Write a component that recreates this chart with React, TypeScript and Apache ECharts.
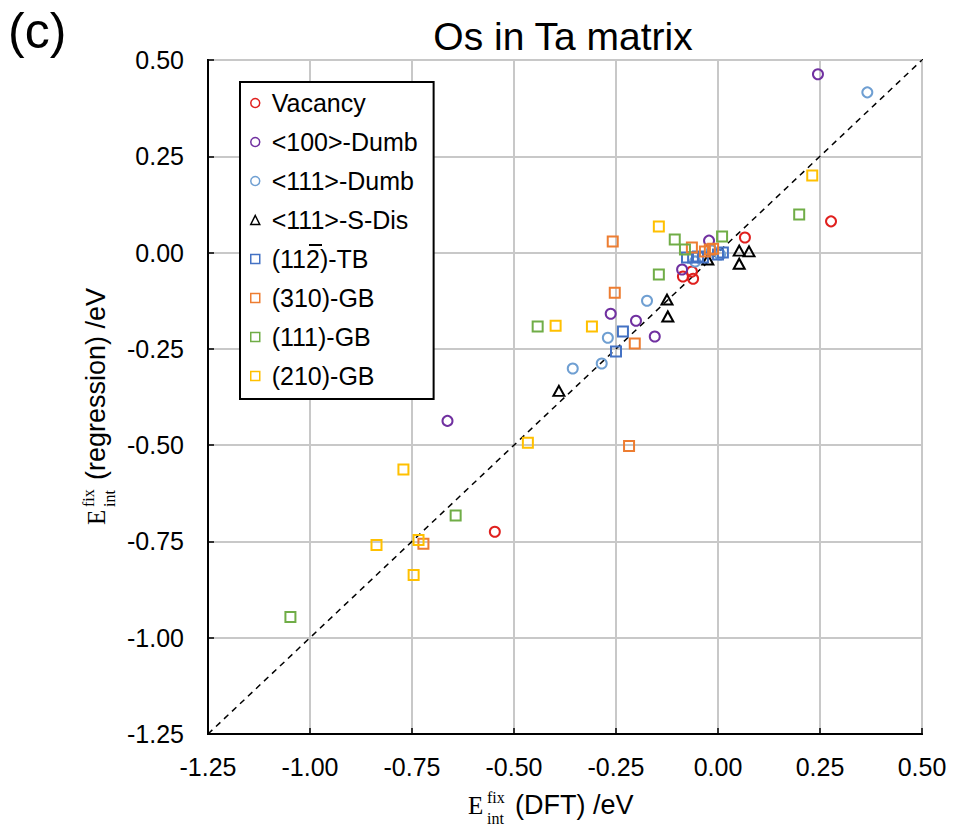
import React, { useEffect, useRef } from "react";
import * as echarts from "echarts";

const SANS = '"Liberation Sans", Arial, sans-serif';
const SERIF = '"Liberation Serif", "Times New Roman", serif';

const xTicks = [-1.25, -1.0, -0.75, -0.5, -0.25, 0.0, 0.25, 0.5];
const yTicks = [-1.25, -1.0, -0.75, -0.5, -0.25, 0.0, 0.25, 0.5];

const seriesNames = [
  "Vacancy",
  "<100>-Dumb",
  "<111>-Dumb",
  "<111>-S-Dis",
  "(112)-TB",
  "(310)-GB",
  "(111)-GB",
  "(210)-GB",
];
const seriesColors = ["#e0201e", "#7030a0", "#6f9fd2", "#000000", "#4472c4", "#ed7d31", "#70ad47", "#ffc000"];
const seriesSymbols = ["circle", "circle", "circle", "triangle", "rect", "rect", "rect", "rect"];

const vacancyX = [0.277, 0.066, -0.086, -0.064, -0.061, -0.547];
const vacancyY = [0.081, 0.039, -0.062, -0.049, -0.068, -0.725];

const dumb100X = [0.245, -0.022, -0.088, -0.263, -0.201, -0.155, -0.663];
const dumb100Y = [0.463, 0.031, -0.044, -0.159, -0.177, -0.218, -0.437];

const dumb111X = [0.366, -0.174, -0.27, -0.285, -0.356, -0.056, -0.015, 0.005];
const dumb111Y = [0.416, -0.125, -0.221, -0.288, -0.301, -0.023, 0.005, -0.005];

const sdisX = [0.052, 0.076, 0.052, -0.025, -0.125, -0.123, -0.39];
const sdisY = [0.005, 0.003, -0.029, -0.018, -0.122, -0.166, -0.359];

const tbX = [-0.233, -0.25, -0.076, -0.061, -0.049, -0.037, 0.0, 0.012];
const tbY = [-0.205, -0.257, -0.013, -0.013, -0.01, -0.013, -0.005, 0.0];

const gb310X = [-0.258, -0.253, -0.204, -0.218, -0.722, -0.064, -0.032, -0.02, -0.012];
const gb310Y = [0.029, -0.104, -0.236, -0.502, -0.756, 0.013, 0.003, 0.008, 0.01];

const gb111X = [-1.048, -0.643, -0.442, -0.145, -0.106, -0.081, 0.01, 0.199];
const gb111Y = [-0.946, -0.683, -0.192, -0.057, 0.034, 0.008, 0.042, 0.099];

const gb210X = [0.231, -0.145, -0.398, -0.309, -0.466, -0.771, -0.837, -0.734, -0.746];
const gb210Y = [0.2, 0.068, -0.19, -0.192, -0.494, -0.563, -0.759, -0.746, -0.837];

const allX = [vacancyX, dumb100X, dumb111X, sdisX, tbX, gb310X, gb111X, gb210X];
const allY = [vacancyY, dumb100Y, dumb111Y, sdisY, tbY, gb310Y, gb111Y, gb210Y];

const parityLine = [
  [-1.25, -1.25],
  [0.5, 0.5],
];

export default function App() {
  const ref = useRef<HTMLDivElement>(null);

  useEffect(() => {
    document.body.style.margin = "0";
    const chart = echarts.init(ref.current!, null, { renderer: "svg" });

    const scatter = seriesNames.map((name, i) => ({
      type: "scatter",
      name,
      data: allX[i].map((x, j) => [x, allY[i][j]]),
      symbol: seriesSymbols[i],
      symbolSize: seriesSymbols[i] === "triangle" ? [11, 10] : 10,
      itemStyle: {
        color: "rgba(255,255,255,0)",
        borderColor: seriesColors[i],
        borderWidth: 2,
        opacity: 1,
      },
      z: 3,
    }));

    const axisCommon = {
      type: "value",
      min: -1.25,
      max: 0.5,
      interval: 0.25,
      axisLine: { show: true, onZero: false, lineStyle: { color: "#000", width: 2 } },
      axisTick: { show: true, inside: true, length: 6, lineStyle: { color: "#000", width: 1.5 } },
      splitLine: { show: true, lineStyle: { color: "#c8c8c8", width: 2 } },
    };

    chart.setOption({
      animation: false,
      backgroundColor: "#fff",
      grid: {
        left: 208,
        right: 32,
        top: 60,
        bottom: 99,
        show: true,
        borderColor: "#000",
        borderWidth: 2,
        backgroundColor: "transparent",
      },
      xAxis: {
        ...axisCommon,
        axisLabel: {
          margin: 20,
          fontSize: 25,
          color: "#000",
          fontFamily: SANS,
          formatter: (v: number) => xTicks.find((t) => Math.abs(t - v) < 1e-9)!.toFixed(2),
        },
      },
      yAxis: {
        ...axisCommon,
        axisLabel: {
          margin: 24,
          fontSize: 25,
          color: "#000",
          fontFamily: SANS,
          formatter: (v: number) => yTicks.find((t) => Math.abs(t - v) < 1e-9)!.toFixed(2),
        },
      },
      legend: {
        data: seriesNames,
        orient: "vertical",
        left: 240,
        top: 82,
        backgroundColor: "#fff",
        borderColor: "#000",
        borderWidth: 2,
        padding: [8, 16, 10, 10],
        itemGap: 13,
        itemWidth: 9,
        itemHeight: 9,
        itemStyle: { borderWidth: 1.5 },
        formatter: (name: string) => " " + name,
        textStyle: { fontSize: 25, lineHeight: 26, color: "#000", fontFamily: SANS },
      },
      title: {
        text: "Os in Ta matrix",
        left: 558,
        top: 12,
        textAlign: "center",
        textStyle: { fontSize: 39, fontWeight: "normal", color: "#000", fontFamily: SANS },
      },
      graphic: [
        {
          type: "text",
          left: 8,
          top: 6,
          style: { text: "(c)", fontSize: 50, fill: "#000", fontFamily: SANS },
        },
        {
          type: "line",
          shape: { x1: 309, y1: 245, x2: 322, y2: 245 },
          style: { stroke: "#000", lineWidth: 2 },
          z: 100,
        },
        {
          type: "group",
          x: 0,
          y: 0,
          children: [
            { type: "text", x: 468, y: 805, style: { text: "E", fontSize: 25, fontFamily: SERIF, fill: "#000", verticalAlign: "middle", align: "left" } },
            { type: "text", x: 487, y: 797, style: { text: "fix", fontSize: 16, fontFamily: SERIF, fill: "#000", verticalAlign: "middle", align: "left" } },
            { type: "text", x: 487, y: 818, style: { text: "int", fontSize: 16, fontFamily: SERIF, fill: "#000", verticalAlign: "middle", align: "left" } },
            { type: "text", x: 515, y: 805, style: { text: "(DFT) /eV", fontSize: 27, fontFamily: SANS, fill: "#000", verticalAlign: "middle", align: "left" } },
          ],
        },
        {
          type: "group",
          x: 96,
          y: 398,
          rotation: Math.PI / 2,
          children: [
            { type: "text", x: -127, y: 0, style: { text: "E", fontSize: 25, fontFamily: SERIF, fill: "#000", verticalAlign: "middle", align: "left" } },
            { type: "text", x: -109, y: -8, style: { text: "fix", fontSize: 16, fontFamily: SERIF, fill: "#000", verticalAlign: "middle", align: "left" } },
            { type: "text", x: -109, y: 13, style: { text: "int", fontSize: 16, fontFamily: SERIF, fill: "#000", verticalAlign: "middle", align: "left" } },
            { type: "text", x: -82, y: 0, style: { text: "(regression) /eV", fontSize: 27, fontFamily: SANS, fill: "#000", verticalAlign: "middle", align: "left" } },
          ],
        },
      ],
      series: [
        {
          type: "line",
          name: "parity",
          data: parityLine,
          symbol: "none",
          silent: true,
          lineStyle: { color: "#000", width: 1.5, type: [6, 5] },
          z: 2,
        },
        ...scatter,
      ],
    });

    return () => chart.dispose();
  }, []);

  return (
    <div
      ref={ref}
      style={{ position: "fixed", left: 0, top: 0, width: 954, height: 833 }}
    />
  );
}
